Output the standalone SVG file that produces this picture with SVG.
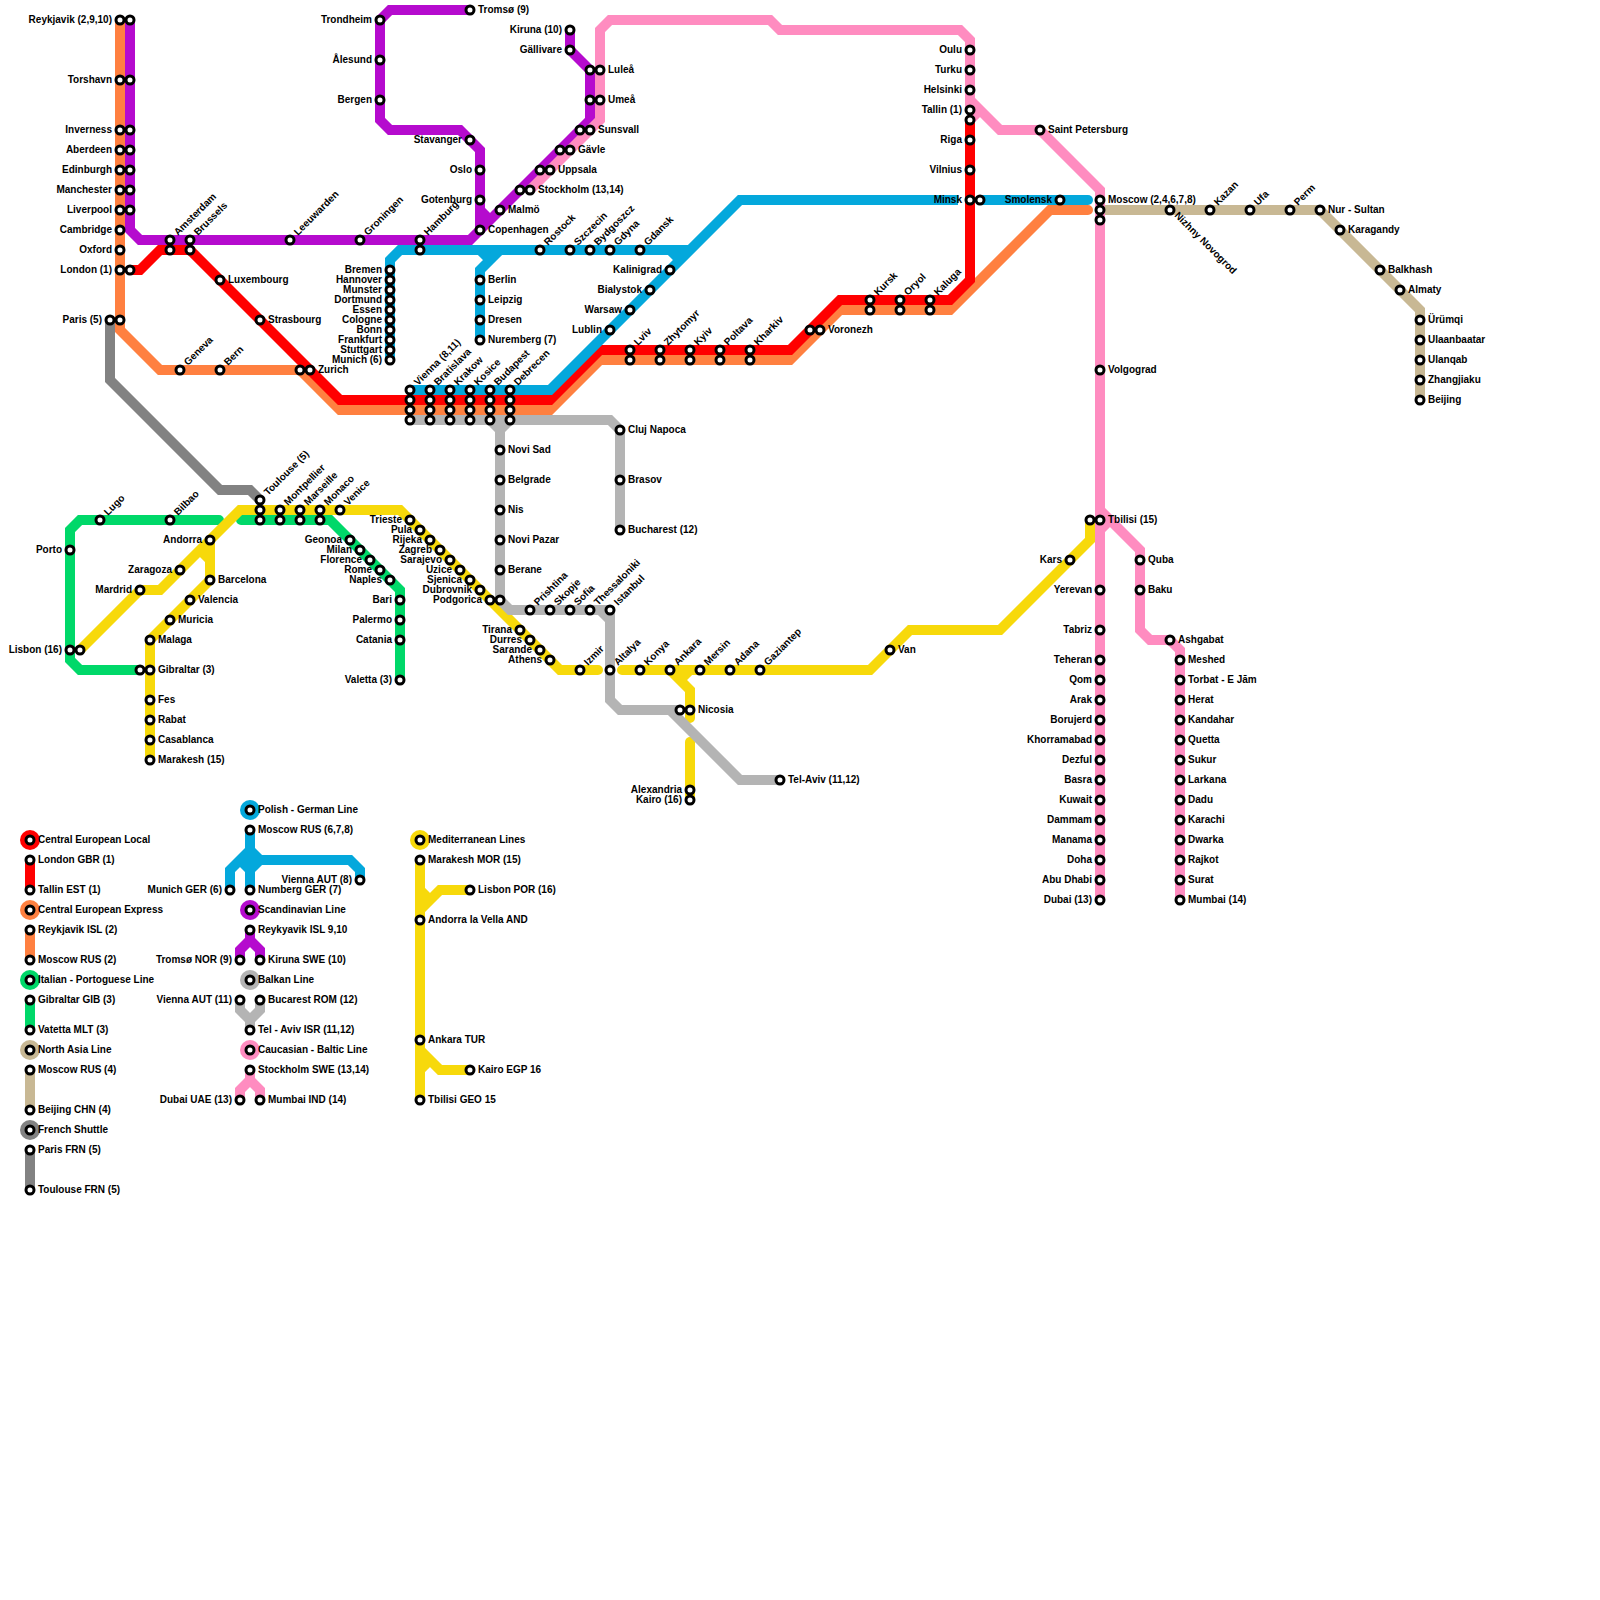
<svg xmlns="http://www.w3.org/2000/svg" width="1600" height="1600" viewBox="0 0 1600 1600">
<style>
text{font-family:"Liberation Sans",Arial,sans-serif;font-size:10px;font-weight:700;fill:#000}
.e{text-anchor:end}
.s{fill:#fff;stroke:#000;stroke-width:3}
path{fill:none;stroke-width:10;stroke-linejoin:miter;stroke-linecap:round}
.b{stroke-linecap:butt}
.red{stroke:#ff0000}.ora{stroke:#ff8040}.blu{stroke:#04a8dc}.pur{stroke:#b50bce}.gre{stroke:#00d869}.yel{stroke:#f7d90b}.pin{stroke:#ff8cc0}.gra{stroke:#b4b4b4}.dgr{stroke:#828282}.bei{stroke:#c8b894}
.kr{fill:#ff0000}.ko{fill:#ff8040}.kb{fill:#04a8dc}.kp{fill:#b50bce}.kg{fill:#00d869}.ky{fill:#f7d90b}.kk{fill:#ff8cc0}.kn{fill:#b4b4b4}.kd{fill:#828282}.ke{fill:#c8b894}
</style>
<rect width="1600" height="1600" fill="#fff"/>
<g id="connectors">
<path class="b dgr" d="M110 320V380L220 490H250L260 500"/>
<path class="b bei" d="M1100 210H1320L1420 310V400"/>
<path class="ora" d="M1088 210H1050L950 310H840L790 360H600L550 410H340L300 370H160L120 330V20"/>
<path class="red" d="M130 270H140L160 250H190L340 400H550L600 350H790L840 300H950L970 280V120"/>
<path class="b blu" d="M410 390H550L740 200H958"/>
<path class="blu" d="M982 200H1088"/>
<path class="b blu" d="M390 360V260L400 250H690"/>
<path class="b blu" d="M670 250L680 260M480 340V270L500 250M480 250L490 260"/>
<path class="b pur" d="M130 20V230L140 240H470L480 230V150L470 140L460 130H390L380 120V20L390 10H470"/>
<path class="b pur" d="M480 210L490 220M480 230L590 120V70L570 50V30"/>
<path class="b pin" d="M530 190L600 120V30L610 20H770L780 30H960L970 40V110"/>
<path class="b pin" d="M970 100L1000 130H1040L1100 190V900M970 120L980 110M1100 510L1140 550V630L1150 640H1170L1180 650V900M1100 530L1110 520"/>
<path class="gre" d="M140 670H80L70 660V530L80 520H219"/>
<path class="gre" d="M241 520H330L400 590V680"/>
<path class="b yel" d="M150 760V640L210 580V540M200 550L210 560"/>
<path class="yel" d="M80 650L140 590H160L240 510H400L410 520L560 670H598"/>
<path class="yel" d="M622 670H870L910 630H1000L1090 540V520"/>
<path class="yel" d="M670 670L690 690V718"/>
<path class="b yel" d="M690 670L680 680"/>
<path class="yel" d="M690 800V742"/>
<path class="b gra" d="M410 420H610L620 430V530M490 420L500 430L510 420M500 430V600L510 610H610M600 610L610 620M610 610V700L620 710H680M670 710L740 780H780"/>
<path class="b red" d="M30 860V890"/>
<path class="b ora" d="M30 930V960"/>
<path class="b gre" d="M30 1000V1030"/>
<path class="b bei" d="M30 1070V1110"/>
<path class="b dgr" d="M30 1150V1190"/>
<path class="b blu" d="M250 830V890M230 890V870L250 850L260 860H350L360 870V880M240 860L250 870L260 860"/>
<path class="b pur" d="M250 930V940L240 950V960M250 940L260 950V960"/>
<path class="b gra" d="M240 1000V1010L250 1020L260 1010V1000M250 1020V1030"/>
<path class="b pin" d="M250 1070V1080L240 1090V1100M250 1080L260 1090V1100"/>
<path class="b yel" d="M420 860V1100M470 890H440L420 910M420 890L430 900M420 1050L440 1070H470M430 1060L420 1070"/>
</g>
<g id="nodes">
<g id="reykjavik"><circle class="s" cx="120" cy="20" r="4"/><text class="e" x="112" y="22.5">Reykjavik (2,9,10)</text></g>
<g id="reykjavik-b"><circle class="s" cx="130" cy="20" r="4"/></g>
<g id="torshavn"><circle class="s" cx="120" cy="80" r="4"/><text class="e" x="112" y="82.5">Torshavn</text></g>
<g id="torshavn-b"><circle class="s" cx="130" cy="80" r="4"/></g>
<g id="inverness"><circle class="s" cx="120" cy="130" r="4"/><text class="e" x="112" y="132.5">Inverness</text></g>
<g id="inverness-b"><circle class="s" cx="130" cy="130" r="4"/></g>
<g id="aberdeen"><circle class="s" cx="120" cy="150" r="4"/><text class="e" x="112" y="152.5">Aberdeen</text></g>
<g id="aberdeen-b"><circle class="s" cx="130" cy="150" r="4"/></g>
<g id="edinburgh"><circle class="s" cx="120" cy="170" r="4"/><text class="e" x="112" y="172.5">Edinburgh</text></g>
<g id="edinburgh-b"><circle class="s" cx="130" cy="170" r="4"/></g>
<g id="manchester"><circle class="s" cx="120" cy="190" r="4"/><text class="e" x="112" y="192.5">Manchester</text></g>
<g id="manchester-b"><circle class="s" cx="130" cy="190" r="4"/></g>
<g id="liverpool"><circle class="s" cx="120" cy="210" r="4"/><text class="e" x="112" y="212.5">Liverpool</text></g>
<g id="liverpool-b"><circle class="s" cx="130" cy="210" r="4"/></g>
<g id="cambridge"><circle class="s" cx="120" cy="230" r="4"/><text class="e" x="112" y="232.5">Cambridge</text></g>
<g id="oxford"><circle class="s" cx="120" cy="250" r="4"/><text class="e" x="112" y="252.5">Oxford</text></g>
<g id="london"><circle class="s" cx="120" cy="270" r="4"/><text class="e" x="112" y="272.5">London (1)</text></g>
<g id="london-b"><circle class="s" cx="130" cy="270" r="4"/></g>
<g id="paris"><circle class="s" cx="110" cy="320" r="4"/><text class="e" x="102" y="322.5">Paris (5)</text></g>
<g id="paris-b"><circle class="s" cx="120" cy="320" r="4"/></g>
<g id="amsterdam"><circle class="s" cx="170" cy="240" r="4"/><text transform="rotate(-45 178 236)" x="178" y="236">Amsterdam</text></g>
<g id="amsterdam-b"><circle class="s" cx="170" cy="250" r="4"/></g>
<g id="brussels"><circle class="s" cx="190" cy="240" r="4"/><text transform="rotate(-45 198 236)" x="198" y="236">Brussels</text></g>
<g id="brussels-b"><circle class="s" cx="190" cy="250" r="4"/></g>
<g id="leeuwarden"><circle class="s" cx="290" cy="240" r="4"/><text transform="rotate(-45 298 236)" x="298" y="236">Leeuwarden</text></g>
<g id="groningen"><circle class="s" cx="360" cy="240" r="4"/><text transform="rotate(-45 368 236)" x="368" y="236">Groningen</text></g>
<g id="hamburg"><circle class="s" cx="420" cy="240" r="4"/><text transform="rotate(-45 428 236)" x="428" y="236">Hamburg</text></g>
<g id="hamburg-b"><circle class="s" cx="420" cy="250" r="4"/></g>
<g id="luxembourg"><circle class="s" cx="220" cy="280" r="4"/><text x="228" y="282.5">Luxembourg</text></g>
<g id="strasbourg"><circle class="s" cx="260" cy="320" r="4"/><text x="268" y="322.5">Strasbourg</text></g>
<g id="geneva"><circle class="s" cx="180" cy="370" r="4"/><text transform="rotate(-45 188 366)" x="188" y="366">Geneva</text></g>
<g id="bern"><circle class="s" cx="220" cy="370" r="4"/><text transform="rotate(-45 228 366)" x="228" y="366">Bern</text></g>
<g id="zurich-a"><circle class="s" cx="300" cy="370" r="4"/></g>
<g id="zurich"><circle class="s" cx="310" cy="370" r="4"/><text x="318" y="372.5">Zurich</text></g>
<g id="trondheim"><circle class="s" cx="380" cy="20" r="4"/><text class="e" x="372" y="22.5">Trondheim</text></g>
<g id="alesund"><circle class="s" cx="380" cy="60" r="4"/><text class="e" x="372" y="62.5">Ålesund</text></g>
<g id="bergen"><circle class="s" cx="380" cy="100" r="4"/><text class="e" x="372" y="102.5">Bergen</text></g>
<g id="tromso"><circle class="s" cx="470" cy="10" r="4"/><text x="478" y="12.5">Tromsø (9)</text></g>
<g id="stavanger"><circle class="s" cx="470" cy="140" r="4"/><text class="e" x="462" y="142.5">Stavanger</text></g>
<g id="oslo"><circle class="s" cx="480" cy="170" r="4"/><text class="e" x="472" y="172.5">Oslo</text></g>
<g id="gotenburg"><circle class="s" cx="480" cy="200" r="4"/><text class="e" x="472" y="202.5">Gotenburg</text></g>
<g id="copenhagen"><circle class="s" cx="480" cy="230" r="4"/><text x="488" y="232.5">Copenhagen</text></g>
<g id="malmo"><circle class="s" cx="500" cy="210" r="4"/><text x="508" y="212.5">Malmö</text></g>
<g id="stockholm-a"><circle class="s" cx="520" cy="190" r="4"/></g>
<g id="stockholm"><circle class="s" cx="530" cy="190" r="4"/><text x="538" y="192.5">Stockholm (13,14)</text></g>
<g id="uppsala-a"><circle class="s" cx="540" cy="170" r="4"/></g>
<g id="uppsala"><circle class="s" cx="550" cy="170" r="4"/><text x="558" y="172.5">Uppsala</text></g>
<g id="gavle-a"><circle class="s" cx="560" cy="150" r="4"/></g>
<g id="gavle"><circle class="s" cx="570" cy="150" r="4"/><text x="578" y="152.5">Gävle</text></g>
<g id="sunsvall-a"><circle class="s" cx="580" cy="130" r="4"/></g>
<g id="sunsvall"><circle class="s" cx="590" cy="130" r="4"/><text x="598" y="132.5">Sunsvall</text></g>
<g id="umea-a"><circle class="s" cx="590" cy="100" r="4"/></g>
<g id="umea"><circle class="s" cx="600" cy="100" r="4"/><text x="608" y="102.5">Umeå</text></g>
<g id="lulea-a"><circle class="s" cx="590" cy="70" r="4"/></g>
<g id="lulea"><circle class="s" cx="600" cy="70" r="4"/><text x="608" y="72.5">Luleå</text></g>
<g id="gallivare"><circle class="s" cx="570" cy="50" r="4"/><text class="e" x="562" y="52.5">Gällivare</text></g>
<g id="kiruna"><circle class="s" cx="570" cy="30" r="4"/><text class="e" x="562" y="32.5">Kiruna (10)</text></g>
<g id="bremen"><circle class="s" cx="390" cy="270" r="4"/><text class="e" x="382" y="272.5">Bremen</text></g>
<g id="hannover"><circle class="s" cx="390" cy="280" r="4"/><text class="e" x="382" y="282.5">Hannover</text></g>
<g id="munster"><circle class="s" cx="390" cy="290" r="4"/><text class="e" x="382" y="292.5">Munster</text></g>
<g id="dortmund"><circle class="s" cx="390" cy="300" r="4"/><text class="e" x="382" y="302.5">Dortmund</text></g>
<g id="essen"><circle class="s" cx="390" cy="310" r="4"/><text class="e" x="382" y="312.5">Essen</text></g>
<g id="cologne"><circle class="s" cx="390" cy="320" r="4"/><text class="e" x="382" y="322.5">Cologne</text></g>
<g id="bonn"><circle class="s" cx="390" cy="330" r="4"/><text class="e" x="382" y="332.5">Bonn</text></g>
<g id="frankfurt"><circle class="s" cx="390" cy="340" r="4"/><text class="e" x="382" y="342.5">Frankfurt</text></g>
<g id="stuttgart"><circle class="s" cx="390" cy="350" r="4"/><text class="e" x="382" y="352.5">Stuttgart</text></g>
<g id="munich"><circle class="s" cx="390" cy="360" r="4"/><text class="e" x="382" y="362.5">Munich (6)</text></g>
<g id="berlin"><circle class="s" cx="480" cy="280" r="4"/><text x="488" y="282.5">Berlin</text></g>
<g id="leipzig"><circle class="s" cx="480" cy="300" r="4"/><text x="488" y="302.5">Leipzig</text></g>
<g id="dresen"><circle class="s" cx="480" cy="320" r="4"/><text x="488" y="322.5">Dresen</text></g>
<g id="nuremberg"><circle class="s" cx="480" cy="340" r="4"/><text x="488" y="342.5">Nuremberg (7)</text></g>
<g id="rostock"><circle class="s" cx="540" cy="250" r="4"/><text transform="rotate(-45 548 246)" x="548" y="246">Rostock</text></g>
<g id="szczecin"><circle class="s" cx="570" cy="250" r="4"/><text transform="rotate(-45 578 246)" x="578" y="246">Szczecin</text></g>
<g id="bydgoszcz"><circle class="s" cx="590" cy="250" r="4"/><text transform="rotate(-45 598 246)" x="598" y="246">Bydgoszcz</text></g>
<g id="gdyna"><circle class="s" cx="610" cy="250" r="4"/><text transform="rotate(-45 618 246)" x="618" y="246">Gdyna</text></g>
<g id="gdansk"><circle class="s" cx="640" cy="250" r="4"/><text transform="rotate(-45 648 246)" x="648" y="246">Gdansk</text></g>
<g id="kalinigrad"><circle class="s" cx="670" cy="270" r="4"/><text class="e" x="662" y="272.5">Kalinigrad</text></g>
<g id="bialystok"><circle class="s" cx="650" cy="290" r="4"/><text class="e" x="642" y="292.5">Bialystok</text></g>
<g id="warsaw"><circle class="s" cx="630" cy="310" r="4"/><text class="e" x="622" y="312.5">Warsaw</text></g>
<g id="lublin"><circle class="s" cx="610" cy="330" r="4"/><text class="e" x="602" y="332.5">Lublin</text></g>
<g id="lviv"><circle class="s" cx="630" cy="350" r="4"/><text transform="rotate(-45 638 346)" x="638" y="346">Lviv</text></g>
<g id="lviv-b"><circle class="s" cx="630" cy="360" r="4"/></g>
<g id="zhytomyr"><circle class="s" cx="660" cy="350" r="4"/><text transform="rotate(-45 668 346)" x="668" y="346">Zhytomyr</text></g>
<g id="zhytomyr-b"><circle class="s" cx="660" cy="360" r="4"/></g>
<g id="kyiv"><circle class="s" cx="690" cy="350" r="4"/><text transform="rotate(-45 698 346)" x="698" y="346">Kyiv</text></g>
<g id="kyiv-b"><circle class="s" cx="690" cy="360" r="4"/></g>
<g id="poltava"><circle class="s" cx="720" cy="350" r="4"/><text transform="rotate(-45 728 346)" x="728" y="346">Poltava</text></g>
<g id="poltava-b"><circle class="s" cx="720" cy="360" r="4"/></g>
<g id="kharkiv"><circle class="s" cx="750" cy="350" r="4"/><text transform="rotate(-45 758 346)" x="758" y="346">Kharkiv</text></g>
<g id="kharkiv-b"><circle class="s" cx="750" cy="360" r="4"/></g>
<g id="voronezh-a"><circle class="s" cx="810" cy="330" r="4"/></g>
<g id="voronezh"><circle class="s" cx="820" cy="330" r="4"/><text x="828" y="332.5">Voronezh</text></g>
<g id="kursk"><circle class="s" cx="870" cy="300" r="4"/><text transform="rotate(-45 878 296)" x="878" y="296">Kursk</text></g>
<g id="kursk-b"><circle class="s" cx="870" cy="310" r="4"/></g>
<g id="oryol"><circle class="s" cx="900" cy="300" r="4"/><text transform="rotate(-45 908 296)" x="908" y="296">Oryol</text></g>
<g id="oryol-b"><circle class="s" cx="900" cy="310" r="4"/></g>
<g id="kaluga"><circle class="s" cx="930" cy="300" r="4"/><text transform="rotate(-45 938 296)" x="938" y="296">Kaluga</text></g>
<g id="kaluga-b"><circle class="s" cx="930" cy="310" r="4"/></g>
<g id="vienna"><circle class="s" cx="410" cy="390" r="4"/><text transform="rotate(-45 418 386)" x="418" y="386">Vienna (8,11)</text></g>
<g id="vienna-2"><circle class="s" cx="410" cy="400" r="4"/></g>
<g id="vienna-3"><circle class="s" cx="410" cy="410" r="4"/></g>
<g id="vienna-4"><circle class="s" cx="410" cy="420" r="4"/></g>
<g id="bratislava"><circle class="s" cx="430" cy="390" r="4"/><text transform="rotate(-45 438 386)" x="438" y="386">Bratislava</text></g>
<g id="bratislava-2"><circle class="s" cx="430" cy="400" r="4"/></g>
<g id="bratislava-3"><circle class="s" cx="430" cy="410" r="4"/></g>
<g id="bratislava-4"><circle class="s" cx="430" cy="420" r="4"/></g>
<g id="krakow"><circle class="s" cx="450" cy="390" r="4"/><text transform="rotate(-45 458 386)" x="458" y="386">Krakow</text></g>
<g id="krakow-2"><circle class="s" cx="450" cy="400" r="4"/></g>
<g id="krakow-3"><circle class="s" cx="450" cy="410" r="4"/></g>
<g id="krakow-4"><circle class="s" cx="450" cy="420" r="4"/></g>
<g id="kosice"><circle class="s" cx="470" cy="390" r="4"/><text transform="rotate(-45 478 386)" x="478" y="386">Kosice</text></g>
<g id="kosice-2"><circle class="s" cx="470" cy="400" r="4"/></g>
<g id="kosice-3"><circle class="s" cx="470" cy="410" r="4"/></g>
<g id="kosice-4"><circle class="s" cx="470" cy="420" r="4"/></g>
<g id="budapest"><circle class="s" cx="490" cy="390" r="4"/><text transform="rotate(-45 498 386)" x="498" y="386">Budapest</text></g>
<g id="budapest-2"><circle class="s" cx="490" cy="400" r="4"/></g>
<g id="budapest-3"><circle class="s" cx="490" cy="410" r="4"/></g>
<g id="budapest-4"><circle class="s" cx="490" cy="420" r="4"/></g>
<g id="debrecen"><circle class="s" cx="510" cy="390" r="4"/><text transform="rotate(-45 518 386)" x="518" y="386">Debrecen</text></g>
<g id="debrecen-2"><circle class="s" cx="510" cy="400" r="4"/></g>
<g id="debrecen-3"><circle class="s" cx="510" cy="410" r="4"/></g>
<g id="debrecen-4"><circle class="s" cx="510" cy="420" r="4"/></g>
<g id="cluj"><circle class="s" cx="620" cy="430" r="4"/><text x="628" y="432.5">Cluj Napoca</text></g>
<g id="brasov"><circle class="s" cx="620" cy="480" r="4"/><text x="628" y="482.5">Brasov</text></g>
<g id="bucharest"><circle class="s" cx="620" cy="530" r="4"/><text x="628" y="532.5">Bucharest (12)</text></g>
<g id="novisad"><circle class="s" cx="500" cy="450" r="4"/><text x="508" y="452.5">Novi Sad</text></g>
<g id="belgrade"><circle class="s" cx="500" cy="480" r="4"/><text x="508" y="482.5">Belgrade</text></g>
<g id="nis"><circle class="s" cx="500" cy="510" r="4"/><text x="508" y="512.5">Nis</text></g>
<g id="novipazar"><circle class="s" cx="500" cy="540" r="4"/><text x="508" y="542.5">Novi Pazar</text></g>
<g id="berane"><circle class="s" cx="500" cy="570" r="4"/><text x="508" y="572.5">Berane</text></g>
<g id="podgorica"><circle class="s" cx="490" cy="600" r="4"/><text class="e" x="482" y="602.5">Podgorica</text></g>
<g id="podgorica-b"><circle class="s" cx="500" cy="600" r="4"/></g>
<g id="prishtina"><circle class="s" cx="530" cy="610" r="4"/><text transform="rotate(-45 538 606)" x="538" y="606">Prishtina</text></g>
<g id="skopje"><circle class="s" cx="550" cy="610" r="4"/><text transform="rotate(-45 558 606)" x="558" y="606">Skopje</text></g>
<g id="sofia"><circle class="s" cx="570" cy="610" r="4"/><text transform="rotate(-45 578 606)" x="578" y="606">Sofia</text></g>
<g id="thessaloniki"><circle class="s" cx="590" cy="610" r="4"/><text transform="rotate(-45 598 606)" x="598" y="606">Thessaloniki</text></g>
<g id="istanbul"><circle class="s" cx="610" cy="610" r="4"/><text transform="rotate(-45 618 606)" x="618" y="606">Istanbul</text></g>
<g id="trieste"><circle class="s" cx="410" cy="520" r="4"/><text class="e" x="402" y="522.5">Trieste</text></g>
<g id="pula"><circle class="s" cx="420" cy="530" r="4"/><text class="e" x="412" y="532.5">Pula</text></g>
<g id="rijeka"><circle class="s" cx="430" cy="540" r="4"/><text class="e" x="422" y="542.5">Rijeka</text></g>
<g id="zagreb"><circle class="s" cx="440" cy="550" r="4"/><text class="e" x="432" y="552.5">Zagreb</text></g>
<g id="sarajevo"><circle class="s" cx="450" cy="560" r="4"/><text class="e" x="442" y="562.5">Sarajevo</text></g>
<g id="uzice"><circle class="s" cx="460" cy="570" r="4"/><text class="e" x="452" y="572.5">Uzice</text></g>
<g id="sjenica"><circle class="s" cx="470" cy="580" r="4"/><text class="e" x="462" y="582.5">Sjenica</text></g>
<g id="dubrovnik"><circle class="s" cx="480" cy="590" r="4"/><text class="e" x="472" y="592.5">Dubrovnik</text></g>
<g id="tirana"><circle class="s" cx="520" cy="630" r="4"/><text class="e" x="512" y="632.5">Tirana</text></g>
<g id="durres"><circle class="s" cx="530" cy="640" r="4"/><text class="e" x="522" y="642.5">Durres</text></g>
<g id="sarande"><circle class="s" cx="540" cy="650" r="4"/><text class="e" x="532" y="652.5">Sarande</text></g>
<g id="athens"><circle class="s" cx="550" cy="660" r="4"/><text class="e" x="542" y="662.5">Athens</text></g>
<g id="izmir"><circle class="s" cx="580" cy="670" r="4"/><text transform="rotate(-45 588 666)" x="588" y="666">Izmir</text></g>
<g id="altalya"><circle class="s" cx="610" cy="670" r="4"/><text transform="rotate(-45 618 666)" x="618" y="666">Altalya</text></g>
<g id="konya"><circle class="s" cx="640" cy="670" r="4"/><text transform="rotate(-45 648 666)" x="648" y="666">Konya</text></g>
<g id="ankara"><circle class="s" cx="670" cy="670" r="4"/><text transform="rotate(-45 678 666)" x="678" y="666">Ankara</text></g>
<g id="mersin"><circle class="s" cx="700" cy="670" r="4"/><text transform="rotate(-45 708 666)" x="708" y="666">Mersin</text></g>
<g id="adana"><circle class="s" cx="730" cy="670" r="4"/><text transform="rotate(-45 738 666)" x="738" y="666">Adana</text></g>
<g id="gaziantep"><circle class="s" cx="760" cy="670" r="4"/><text transform="rotate(-45 768 666)" x="768" y="666">Gaziantep</text></g>
<g id="nicosia-a"><circle class="s" cx="680" cy="710" r="4"/></g>
<g id="nicosia"><circle class="s" cx="690" cy="710" r="4"/><text x="698" y="712.5">Nicosia</text></g>
<g id="telaviv"><circle class="s" cx="780" cy="780" r="4"/><text x="788" y="782.5">Tel-Aviv (11,12)</text></g>
<g id="alexandria"><circle class="s" cx="690" cy="790" r="4"/><text class="e" x="682" y="792.5">Alexandria</text></g>
<g id="kairo"><circle class="s" cx="690" cy="800" r="4"/><text class="e" x="682" y="802.5">Kairo (16)</text></g>
<g id="van"><circle class="s" cx="890" cy="650" r="4"/><text x="898" y="652.5">Van</text></g>
<g id="kars"><circle class="s" cx="1070" cy="560" r="4"/><text class="e" x="1062" y="562.5">Kars</text></g>
<g id="tbilisi-a"><circle class="s" cx="1090" cy="520" r="4"/></g>
<g id="tbilisi"><circle class="s" cx="1100" cy="520" r="4"/><text x="1108" y="522.5">Tbilisi (15)</text></g>
<g id="lugo"><circle class="s" cx="100" cy="520" r="4"/><text transform="rotate(-45 108 516)" x="108" y="516">Lugo</text></g>
<g id="bilbao"><circle class="s" cx="170" cy="520" r="4"/><text transform="rotate(-45 178 516)" x="178" y="516">Bilbao</text></g>
<g id="porto"><circle class="s" cx="70" cy="550" r="4"/><text class="e" x="62" y="552.5">Porto</text></g>
<g id="lisbon"><circle class="s" cx="70" cy="650" r="4"/><text class="e" x="62" y="652.5">Lisbon (16)</text></g>
<g id="lisbon-b"><circle class="s" cx="80" cy="650" r="4"/></g>
<g id="andorra"><circle class="s" cx="210" cy="540" r="4"/><text class="e" x="202" y="542.5">Andorra</text></g>
<g id="zaragoza"><circle class="s" cx="180" cy="570" r="4"/><text class="e" x="172" y="572.5">Zaragoza</text></g>
<g id="mardrid"><circle class="s" cx="140" cy="590" r="4"/><text class="e" x="132" y="592.5">Mardrid</text></g>
<g id="barcelona"><circle class="s" cx="210" cy="580" r="4"/><text x="218" y="582.5">Barcelona</text></g>
<g id="valencia"><circle class="s" cx="190" cy="600" r="4"/><text x="198" y="602.5">Valencia</text></g>
<g id="muricia"><circle class="s" cx="170" cy="620" r="4"/><text x="178" y="622.5">Muricia</text></g>
<g id="malaga"><circle class="s" cx="150" cy="640" r="4"/><text x="158" y="642.5">Malaga</text></g>
<g id="gibraltar-a"><circle class="s" cx="140" cy="670" r="4"/></g>
<g id="gibraltar"><circle class="s" cx="150" cy="670" r="4"/><text x="158" y="672.5">Gibraltar (3)</text></g>
<g id="fes"><circle class="s" cx="150" cy="700" r="4"/><text x="158" y="702.5">Fes</text></g>
<g id="rabat"><circle class="s" cx="150" cy="720" r="4"/><text x="158" y="722.5">Rabat</text></g>
<g id="casablanca"><circle class="s" cx="150" cy="740" r="4"/><text x="158" y="742.5">Casablanca</text></g>
<g id="marakesh"><circle class="s" cx="150" cy="760" r="4"/><text x="158" y="762.5">Marakesh (15)</text></g>
<g id="toulouse"><circle class="s" cx="260" cy="500" r="4"/><text transform="rotate(-45 268 496)" x="268" y="496">Toulouse (5)</text></g>
<g id="toulouse-2"><circle class="s" cx="260" cy="510" r="4"/></g>
<g id="toulouse-3"><circle class="s" cx="260" cy="520" r="4"/></g>
<g id="montpellier"><circle class="s" cx="280" cy="510" r="4"/><text transform="rotate(-45 288 506)" x="288" y="506">Montpellier</text></g>
<g id="montpellier-b"><circle class="s" cx="280" cy="520" r="4"/></g>
<g id="marseille"><circle class="s" cx="300" cy="510" r="4"/><text transform="rotate(-45 308 506)" x="308" y="506">Marseille</text></g>
<g id="marseille-b"><circle class="s" cx="300" cy="520" r="4"/></g>
<g id="monaco"><circle class="s" cx="320" cy="510" r="4"/><text transform="rotate(-45 328 506)" x="328" y="506">Monaco</text></g>
<g id="monaco-b"><circle class="s" cx="320" cy="520" r="4"/></g>
<g id="venice"><circle class="s" cx="340" cy="510" r="4"/><text transform="rotate(-45 348 506)" x="348" y="506">Venice</text></g>
<g id="geonoa"><circle class="s" cx="350" cy="540" r="4"/><text class="e" x="342" y="542.5">Geonoa</text></g>
<g id="milan"><circle class="s" cx="360" cy="550" r="4"/><text class="e" x="352" y="552.5">Milan</text></g>
<g id="florence"><circle class="s" cx="370" cy="560" r="4"/><text class="e" x="362" y="562.5">Florence</text></g>
<g id="rome"><circle class="s" cx="380" cy="570" r="4"/><text class="e" x="372" y="572.5">Rome</text></g>
<g id="naples"><circle class="s" cx="390" cy="580" r="4"/><text class="e" x="382" y="582.5">Naples</text></g>
<g id="bari"><circle class="s" cx="400" cy="600" r="4"/><text class="e" x="392" y="602.5">Bari</text></g>
<g id="palermo"><circle class="s" cx="400" cy="620" r="4"/><text class="e" x="392" y="622.5">Palermo</text></g>
<g id="catania"><circle class="s" cx="400" cy="640" r="4"/><text class="e" x="392" y="642.5">Catania</text></g>
<g id="valetta"><circle class="s" cx="400" cy="680" r="4"/><text class="e" x="392" y="682.5">Valetta (3)</text></g>
<g id="oulu"><circle class="s" cx="970" cy="50" r="4"/><text class="e" x="962" y="52.5">Oulu</text></g>
<g id="turku"><circle class="s" cx="970" cy="70" r="4"/><text class="e" x="962" y="72.5">Turku</text></g>
<g id="helsinki"><circle class="s" cx="970" cy="90" r="4"/><text class="e" x="962" y="92.5">Helsinki</text></g>
<g id="tallin"><circle class="s" cx="970" cy="110" r="4"/><text class="e" x="962" y="112.5">Tallin (1)</text></g>
<g id="tallin-b"><circle class="s" cx="970" cy="120" r="4"/></g>
<g id="riga"><circle class="s" cx="970" cy="140" r="4"/><text class="e" x="962" y="142.5">Riga</text></g>
<g id="vilnius"><circle class="s" cx="970" cy="170" r="4"/><text class="e" x="962" y="172.5">Vilnius</text></g>
<g id="minsk"><circle class="s" cx="970" cy="200" r="4"/><text class="e" x="962" y="202.5">Minsk</text></g>
<g id="minsk-b"><circle class="s" cx="980" cy="200" r="4"/></g>
<g id="saintpetersburg"><circle class="s" cx="1040" cy="130" r="4"/><text x="1048" y="132.5">Saint Petersburg</text></g>
<g id="smolensk"><circle class="s" cx="1060" cy="200" r="4"/><text class="e" x="1052" y="202.5">Smolensk</text></g>
<g id="moscow"><circle class="s" cx="1100" cy="200" r="4"/><text x="1108" y="202.5">Moscow (2,4,6,7,8)</text></g>
<g id="moscow-2"><circle class="s" cx="1100" cy="210" r="4"/></g>
<g id="moscow-3"><circle class="s" cx="1100" cy="220" r="4"/></g>
<g id="nizhny"><circle class="s" cx="1170" cy="210" r="4"/><text transform="rotate(45 1174 216)" x="1174" y="216">Nizhny Novogrod</text></g>
<g id="kazan"><circle class="s" cx="1210" cy="210" r="4"/><text transform="rotate(-45 1218 206)" x="1218" y="206">Kazan</text></g>
<g id="ufa"><circle class="s" cx="1250" cy="210" r="4"/><text transform="rotate(-45 1258 206)" x="1258" y="206">Ufa</text></g>
<g id="perm"><circle class="s" cx="1290" cy="210" r="4"/><text transform="rotate(-45 1298 206)" x="1298" y="206">Perm</text></g>
<g id="nursultan"><circle class="s" cx="1320" cy="210" r="4"/><text x="1328" y="212.5">Nur - Sultan</text></g>
<g id="karagandy"><circle class="s" cx="1340" cy="230" r="4"/><text x="1348" y="232.5">Karagandy</text></g>
<g id="balkhash"><circle class="s" cx="1380" cy="270" r="4"/><text x="1388" y="272.5">Balkhash</text></g>
<g id="almaty"><circle class="s" cx="1400" cy="290" r="4"/><text x="1408" y="292.5">Almaty</text></g>
<g id="urumqi"><circle class="s" cx="1420" cy="320" r="4"/><text x="1428" y="322.5">Ürümqi</text></g>
<g id="ulaanbaatar"><circle class="s" cx="1420" cy="340" r="4"/><text x="1428" y="342.5">Ulaanbaatar</text></g>
<g id="ulanqab"><circle class="s" cx="1420" cy="360" r="4"/><text x="1428" y="362.5">Ulanqab</text></g>
<g id="zhangjiaku"><circle class="s" cx="1420" cy="380" r="4"/><text x="1428" y="382.5">Zhangjiaku</text></g>
<g id="beijing"><circle class="s" cx="1420" cy="400" r="4"/><text x="1428" y="402.5">Beijing</text></g>
<g id="volgograd"><circle class="s" cx="1100" cy="370" r="4"/><text x="1108" y="372.5">Volgograd</text></g>
<g id="yerevan"><circle class="s" cx="1100" cy="590" r="4"/><text class="e" x="1092" y="592.5">Yerevan</text></g>
<g id="tabriz"><circle class="s" cx="1100" cy="630" r="4"/><text class="e" x="1092" y="632.5">Tabriz</text></g>
<g id="teheran"><circle class="s" cx="1100" cy="660" r="4"/><text class="e" x="1092" y="662.5">Teheran</text></g>
<g id="qom"><circle class="s" cx="1100" cy="680" r="4"/><text class="e" x="1092" y="682.5">Qom</text></g>
<g id="arak"><circle class="s" cx="1100" cy="700" r="4"/><text class="e" x="1092" y="702.5">Arak</text></g>
<g id="borujerd"><circle class="s" cx="1100" cy="720" r="4"/><text class="e" x="1092" y="722.5">Borujerd</text></g>
<g id="khorramabad"><circle class="s" cx="1100" cy="740" r="4"/><text class="e" x="1092" y="742.5">Khorramabad</text></g>
<g id="dezful"><circle class="s" cx="1100" cy="760" r="4"/><text class="e" x="1092" y="762.5">Dezful</text></g>
<g id="basra"><circle class="s" cx="1100" cy="780" r="4"/><text class="e" x="1092" y="782.5">Basra</text></g>
<g id="kuwait"><circle class="s" cx="1100" cy="800" r="4"/><text class="e" x="1092" y="802.5">Kuwait</text></g>
<g id="dammam"><circle class="s" cx="1100" cy="820" r="4"/><text class="e" x="1092" y="822.5">Dammam</text></g>
<g id="manama"><circle class="s" cx="1100" cy="840" r="4"/><text class="e" x="1092" y="842.5">Manama</text></g>
<g id="doha"><circle class="s" cx="1100" cy="860" r="4"/><text class="e" x="1092" y="862.5">Doha</text></g>
<g id="abudhabi"><circle class="s" cx="1100" cy="880" r="4"/><text class="e" x="1092" y="882.5">Abu Dhabi</text></g>
<g id="dubai"><circle class="s" cx="1100" cy="900" r="4"/><text class="e" x="1092" y="902.5">Dubai (13)</text></g>
<g id="quba"><circle class="s" cx="1140" cy="560" r="4"/><text x="1148" y="562.5">Quba</text></g>
<g id="baku"><circle class="s" cx="1140" cy="590" r="4"/><text x="1148" y="592.5">Baku</text></g>
<g id="ashgabat"><circle class="s" cx="1170" cy="640" r="4"/><text x="1178" y="642.5">Ashgabat</text></g>
<g id="meshed"><circle class="s" cx="1180" cy="660" r="4"/><text x="1188" y="662.5">Meshed</text></g>
<g id="torbat"><circle class="s" cx="1180" cy="680" r="4"/><text x="1188" y="682.5">Torbat - E Jām</text></g>
<g id="herat"><circle class="s" cx="1180" cy="700" r="4"/><text x="1188" y="702.5">Herat</text></g>
<g id="kandahar"><circle class="s" cx="1180" cy="720" r="4"/><text x="1188" y="722.5">Kandahar</text></g>
<g id="quetta"><circle class="s" cx="1180" cy="740" r="4"/><text x="1188" y="742.5">Quetta</text></g>
<g id="sukur"><circle class="s" cx="1180" cy="760" r="4"/><text x="1188" y="762.5">Sukur</text></g>
<g id="larkana"><circle class="s" cx="1180" cy="780" r="4"/><text x="1188" y="782.5">Larkana</text></g>
<g id="dadu"><circle class="s" cx="1180" cy="800" r="4"/><text x="1188" y="802.5">Dadu</text></g>
<g id="karachi"><circle class="s" cx="1180" cy="820" r="4"/><text x="1188" y="822.5">Karachi</text></g>
<g id="dwarka"><circle class="s" cx="1180" cy="840" r="4"/><text x="1188" y="842.5">Dwarka</text></g>
<g id="rajkot"><circle class="s" cx="1180" cy="860" r="4"/><text x="1188" y="862.5">Rajkot</text></g>
<g id="surat"><circle class="s" cx="1180" cy="880" r="4"/><text x="1188" y="882.5">Surat</text></g>
<g id="mumbai"><circle class="s" cx="1180" cy="900" r="4"/><text x="1188" y="902.5">Mumbai (14)</text></g>
</g>
<g id="legend">
<g id="key-local"><circle class="kr" cx="30" cy="840" r="10"/><circle class="s" cx="30" cy="840" r="4"/><text x="38" y="842.5">Central European Local</text></g>
<g id="key-london"><circle class="s" cx="30" cy="860" r="4"/><text x="38" y="862.5">London GBR (1)</text></g>
<g id="key-tallin"><circle class="s" cx="30" cy="890" r="4"/><text x="38" y="892.5">Tallin EST (1)</text></g>
<g id="key-express"><circle class="ko" cx="30" cy="910" r="10"/><circle class="s" cx="30" cy="910" r="4"/><text x="38" y="912.5">Central European Express</text></g>
<g id="key-reykjavik"><circle class="s" cx="30" cy="930" r="4"/><text x="38" y="932.5">Reykjavik ISL (2)</text></g>
<g id="key-moscow2"><circle class="s" cx="30" cy="960" r="4"/><text x="38" y="962.5">Moscow RUS (2)</text></g>
<g id="key-italian"><circle class="kg" cx="30" cy="980" r="10"/><circle class="s" cx="30" cy="980" r="4"/><text x="38" y="982.5">Italian - Portoguese Line</text></g>
<g id="key-gibraltar"><circle class="s" cx="30" cy="1000" r="4"/><text x="38" y="1002.5">Gibraltar GIB (3)</text></g>
<g id="key-vatetta"><circle class="s" cx="30" cy="1030" r="4"/><text x="38" y="1032.5">Vatetta MLT (3)</text></g>
<g id="key-northasia"><circle class="ke" cx="30" cy="1050" r="10"/><circle class="s" cx="30" cy="1050" r="4"/><text x="38" y="1052.5">North Asia Line</text></g>
<g id="key-moscow4"><circle class="s" cx="30" cy="1070" r="4"/><text x="38" y="1072.5">Moscow RUS (4)</text></g>
<g id="key-beijing"><circle class="s" cx="30" cy="1110" r="4"/><text x="38" y="1112.5">Beijing CHN (4)</text></g>
<g id="key-french"><circle class="kd" cx="30" cy="1130" r="10"/><circle class="s" cx="30" cy="1130" r="4"/><text x="38" y="1132.5">French Shuttle</text></g>
<g id="key-paris"><circle class="s" cx="30" cy="1150" r="4"/><text x="38" y="1152.5">Paris FRN (5)</text></g>
<g id="key-toulouse"><circle class="s" cx="30" cy="1190" r="4"/><text x="38" y="1192.5">Toulouse FRN (5)</text></g>
<g id="key-polish"><circle class="kb" cx="250" cy="810" r="10"/><circle class="s" cx="250" cy="810" r="4"/><text x="258" y="812.5">Polish - German Line</text></g>
<g id="key-moscow678"><circle class="s" cx="250" cy="830" r="4"/><text x="258" y="832.5">Moscow RUS (6,7,8)</text></g>
<g id="key-munich"><circle class="s" cx="230" cy="890" r="4"/><text class="e" x="222" y="892.5">Munich GER (6)</text></g>
<g id="key-numberg"><circle class="s" cx="250" cy="890" r="4"/><text x="258" y="892.5">Numberg GER (7)</text></g>
<g id="key-vienna8"><circle class="s" cx="360" cy="880" r="4"/><text class="e" x="352" y="882.5">Vienna AUT (8)</text></g>
<g id="key-scandinavian"><circle class="kp" cx="250" cy="910" r="10"/><circle class="s" cx="250" cy="910" r="4"/><text x="258" y="912.5">Scandinavian Line</text></g>
<g id="key-reykyavik"><circle class="s" cx="250" cy="930" r="4"/><text x="258" y="932.5">Reykyavik ISL 9,10</text></g>
<g id="key-tromso"><circle class="s" cx="240" cy="960" r="4"/><text class="e" x="232" y="962.5">Tromsø NOR (9)</text></g>
<g id="key-kiruna"><circle class="s" cx="260" cy="960" r="4"/><text x="268" y="962.5">Kiruna SWE (10)</text></g>
<g id="key-balkan"><circle class="kn" cx="250" cy="980" r="10"/><circle class="s" cx="250" cy="980" r="4"/><text x="258" y="982.5">Balkan Line</text></g>
<g id="key-vienna11"><circle class="s" cx="240" cy="1000" r="4"/><text class="e" x="232" y="1002.5">Vienna AUT (11)</text></g>
<g id="key-bucarest"><circle class="s" cx="260" cy="1000" r="4"/><text x="268" y="1002.5">Bucarest ROM (12)</text></g>
<g id="key-telaviv"><circle class="s" cx="250" cy="1030" r="4"/><text x="258" y="1032.5">Tel - Aviv ISR (11,12)</text></g>
<g id="key-caucasian"><circle class="kk" cx="250" cy="1050" r="10"/><circle class="s" cx="250" cy="1050" r="4"/><text x="258" y="1052.5">Caucasian - Baltic Line</text></g>
<g id="key-stockholm"><circle class="s" cx="250" cy="1070" r="4"/><text x="258" y="1072.5">Stockholm SWE (13,14)</text></g>
<g id="key-dubai"><circle class="s" cx="240" cy="1100" r="4"/><text class="e" x="232" y="1102.5">Dubai UAE (13)</text></g>
<g id="key-mumbai"><circle class="s" cx="260" cy="1100" r="4"/><text x="268" y="1102.5">Mumbai IND (14)</text></g>
<g id="key-med"><circle class="ky" cx="420" cy="840" r="10"/><circle class="s" cx="420" cy="840" r="4"/><text x="428" y="842.5">Mediterranean Lines</text></g>
<g id="key-marakesh"><circle class="s" cx="420" cy="860" r="4"/><text x="428" y="862.5">Marakesh MOR (15)</text></g>
<g id="key-lisbon"><circle class="s" cx="470" cy="890" r="4"/><text x="478" y="892.5">Lisbon POR (16)</text></g>
<g id="key-andorra"><circle class="s" cx="420" cy="920" r="4"/><text x="428" y="922.5">Andorra la Vella AND</text></g>
<g id="key-ankara"><circle class="s" cx="420" cy="1040" r="4"/><text x="428" y="1042.5">Ankara TUR</text></g>
<g id="key-kairo"><circle class="s" cx="470" cy="1070" r="4"/><text x="478" y="1072.5">Kairo EGP 16</text></g>
<g id="key-tbilisi"><circle class="s" cx="420" cy="1100" r="4"/><text x="428" y="1102.5">Tbilisi GEO 15</text></g>
</g>
</svg>
